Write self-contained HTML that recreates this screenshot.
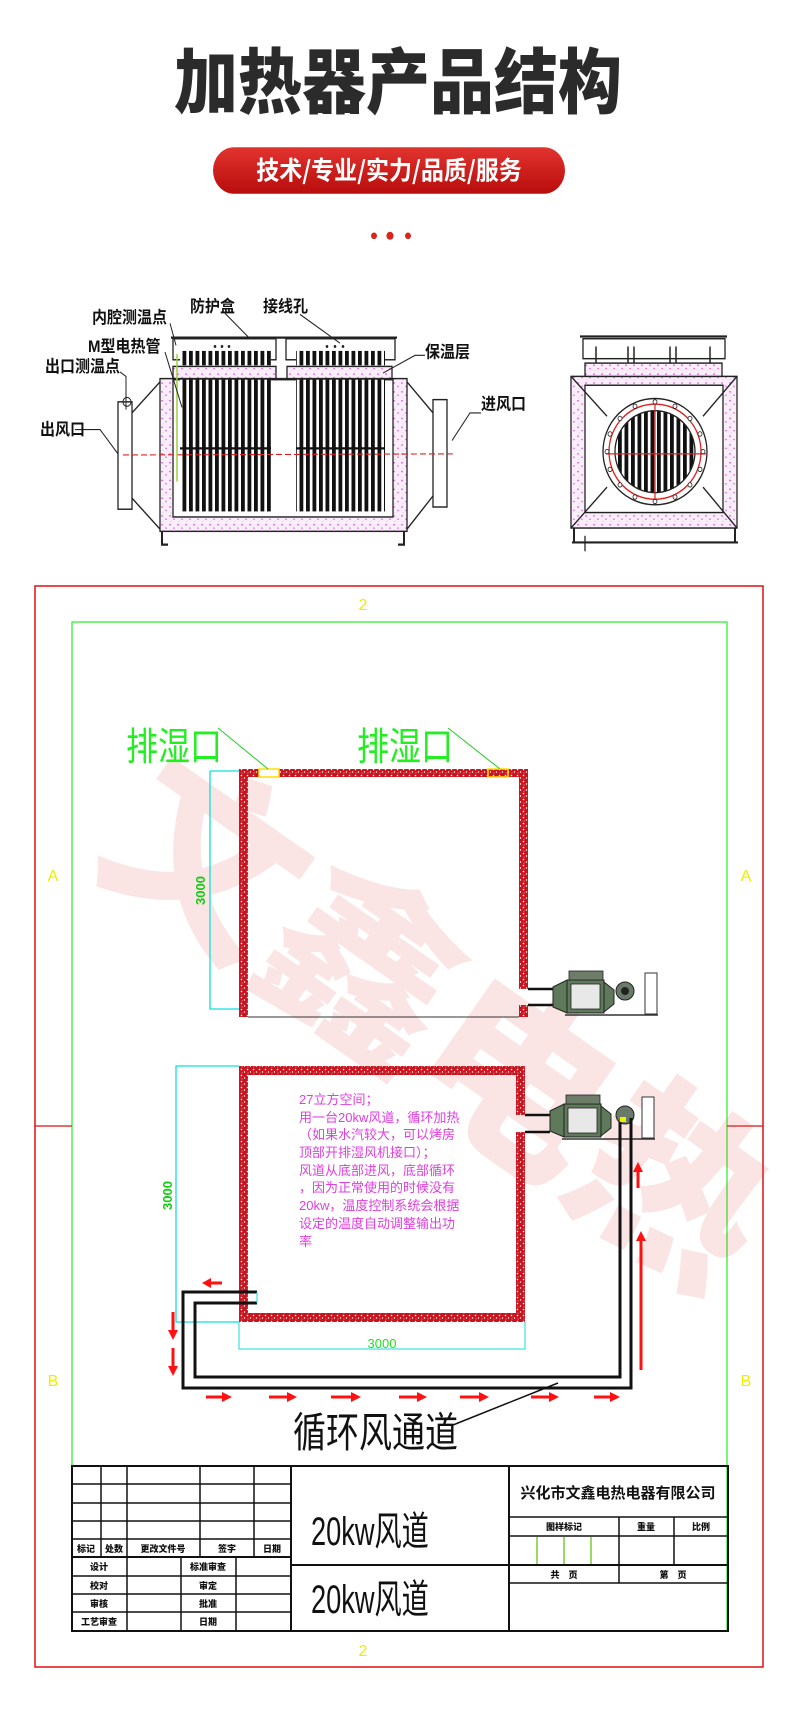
<!DOCTYPE html>
<html><head><meta charset="utf-8">
<style>
html,body{margin:0;padding:0;background:#fff;}
svg{display:block;}
text{font-family:"Liberation Sans","Noto Sans CJK SC",sans-serif;}
.cad{font-family:"Liberation Sans","Noto Sans CJK SC",sans-serif;}
.serif{font-family:"Liberation Serif","Noto Serif CJK SC",serif;}
</style></head>
<body>
<svg width="790" height="1713" viewBox="0 0 790 1713" xmlns="http://www.w3.org/2000/svg">
<defs>
<linearGradient id="btn" x1="0" y1="0" x2="0" y2="1">
<stop offset="0" stop-color="#e2342f"/><stop offset="1" stop-color="#b80d0d"/>
</linearGradient>
<pattern id="brick" width="6" height="6" patternUnits="userSpaceOnUse">
<rect width="6" height="6" fill="#c8141e"/>
<circle cx="1.5" cy="1.5" r="0.8" fill="#fff"/><circle cx="4.5" cy="4" r="0.7" fill="#fff"/><circle cx="2" cy="5" r="0.5" fill="#f4c0c0"/>
</pattern>
<pattern id="ins" width="8" height="8" patternUnits="userSpaceOnUse">
<rect width="8" height="8" fill="#fbeefb"/>
<circle cx="2" cy="2" r="0.8" fill="#e040e0"/><circle cx="6" cy="5" r="0.7" fill="#e040e0"/><circle cx="3" cy="7" r="0.5" fill="#c0c0c0"/>
</pattern>
<pattern id="tube" width="6.5" height="10" patternUnits="userSpaceOnUse">
<rect width="6.5" height="10" fill="#fff"/><rect x="0.5" width="3.8" height="10" fill="#111"/>
</pattern>
<clipPath id="cc"><ellipse cx="655" cy="408" rx="40" ry="37"/></clipPath>
</defs>

<g transform="scale(1,1.107)">
<!-- Header -->
<text x="398" y="97" font-size="64" font-weight="900" text-anchor="middle" fill="#2b2b2b" style="font-family:'Noto Sans CJK SC',sans-serif;font-weight:900">加热器产品结构</text>
<rect x="213" y="133" width="352" height="42" rx="21" fill="url(#btn)"/>
<text x="389" y="162" font-size="23" font-weight="700" text-anchor="middle" fill="#fff" style="font-family:'Noto Sans CJK SC',sans-serif;font-weight:700">技术/专业/实力/品质/服务</text>
<circle cx="374" cy="213" r="3" fill="#d9261c"/><circle cx="390" cy="213" r="3.6" fill="#d9261c"/><circle cx="408" cy="213" r="3" fill="#d9261c"/>

<!-- Left heater diagram -->
<g stroke="#222" stroke-width="1.3" fill="none">
<rect x="160" y="342" width="247" height="138" fill="url(#ins)"/>
<rect x="173" y="343" width="220" height="124" fill="#fff"/>
<rect x="173" y="331" width="103" height="11" fill="url(#ins)"/>
<rect x="287" y="331" width="105" height="11" fill="url(#ins)"/>
<rect x="173" y="306" width="103" height="19" fill="#fff"/>
<rect x="286" y="306" width="109" height="19" fill="#fff"/>
<line x1="171" y1="305" x2="397" y2="305" stroke-width="2"/>
<polyline points="160,345 132,373"/><polyline points="160,478 132,450"/>
<rect x="118" y="363" width="14" height="97" fill="#fff"/>
<polyline points="407,345 433,373"/><polyline points="407,478 433,448"/>
<rect x="433" y="361" width="14" height="97" fill="#fff"/>
<polyline points="162,480 162,492 168,492" stroke-width="2"/>
<polyline points="404,480 404,492 398,492" stroke-width="2"/>
</g>
<rect x="180" y="343" width="91" height="119" fill="url(#tube)"/>
<rect x="296" y="343" width="89" height="119" fill="url(#tube)"/>
<rect x="180" y="317" width="91" height="13" fill="url(#tube)"/>
<rect x="296" y="317" width="89" height="13" fill="url(#tube)"/>
<line x1="180" y1="405" x2="271" y2="405" stroke="#111" stroke-width="2"/>
<line x1="296" y1="405" x2="385" y2="405" stroke="#111" stroke-width="2"/>
<line x1="123" y1="411" x2="456" y2="410" stroke="#e02020" stroke-width="1" stroke-dasharray="6,3"/>
<line x1="177" y1="320" x2="177" y2="435" stroke="#9ad23a" stroke-width="1.5"/>
<circle cx="215" cy="313" r="1.3" fill="#222"/><circle cx="222" cy="313" r="1.3" fill="#222"/><circle cx="229" cy="313" r="1.3" fill="#222"/>
<circle cx="327" cy="313" r="1.3" fill="#222"/><circle cx="335" cy="313" r="1.3" fill="#222"/><circle cx="343" cy="313" r="1.3" fill="#222"/>
<g stroke="#222" stroke-width="1" fill="none">
<polyline points="75,388 100,388 118,410"/>
<polyline points="120,336 126,340 126,370"/>
<circle cx="127" cy="363" r="4"/>
<polyline points="165,318 182,368"/>
<polyline points="170,292 176,312"/>
<polyline points="225,283 250,306"/>
<polyline points="300,284 340,310"/>
<polyline points="425,321 415,321 383,337"/>
<polyline points="481,373 470,373 452,398"/>
</g>
<g font-size="15" fill="#111" style="font-family:'Noto Serif CJK SC',serif;font-weight:700">
<text x="190" y="282">防护盒</text>
<text x="263" y="282">接线孔</text>
<text x="92" y="292">内腔测温点</text>
<text x="88" y="318">M型电热管</text>
<text x="45" y="336">出口测温点</text>
<text x="425" y="323">保温层</text>
<text x="481" y="370">进风口</text>
<text x="40" y="393">出风口</text>
</g>

<!-- Right heater diagram -->
<g stroke="#222" stroke-width="1.3" fill="none">
<rect x="571" y="340" width="166" height="137" fill="url(#ins)"/>
<rect x="585" y="348" width="138" height="115" fill="#fff"/>
<rect x="585" y="328" width="137" height="12" fill="url(#ins)"/>
<rect x="583" y="306" width="142" height="18" fill="#fff"/>
<line x1="580" y1="304" x2="727" y2="304" stroke-width="2"/>
<line x1="571" y1="340" x2="607" y2="376"/><line x1="737" y1="340" x2="703" y2="376"/>
<line x1="571" y1="477" x2="607" y2="440"/><line x1="737" y1="477" x2="703" y2="440"/>
<ellipse cx="655" cy="408" rx="52" ry="48" fill="#fff"/>
<ellipse cx="655" cy="408" rx="46" ry="43" stroke="#e02020"/>
<line x1="572" y1="490" x2="738" y2="490" stroke-width="2"/>
<line x1="574" y1="477" x2="574" y2="490" stroke-width="2"/><line x1="735" y1="477" x2="735" y2="490" stroke-width="2"/>
<line x1="585" y1="484" x2="585" y2="498"/>
</g>
<g clip-path="url(#cc)"><rect x="612" y="368" width="90" height="80" fill="url(#tube)"/></g>
<ellipse cx="655" cy="408" rx="40" ry="37" fill="none" stroke="#222" stroke-width="1.3"/>
<line x1="655" y1="362" x2="655" y2="455" stroke="#e02020" stroke-width="1.2"/>
<line x1="606" y1="410" x2="707" y2="410" stroke="#e02020" stroke-width="1.2"/>
<g fill="#fff" stroke="#222" stroke-width="0.8">
<circle cx="655" cy="363" r="2"/><circle cx="675" cy="367" r="2"/><circle cx="690" cy="378" r="2"/><circle cx="700" cy="392" r="2"/><circle cx="703" cy="408" r="2"/><circle cx="700" cy="424" r="2"/><circle cx="690" cy="438" r="2"/><circle cx="675" cy="449" r="2"/><circle cx="655" cy="453" r="2"/><circle cx="635" cy="449" r="2"/><circle cx="620" cy="438" r="2"/><circle cx="610" cy="424" r="2"/><circle cx="607" cy="408" r="2"/><circle cx="610" cy="392" r="2"/><circle cx="620" cy="378" r="2"/><circle cx="635" cy="367" r="2"/>
</g>
<g stroke="#222" stroke-width="1.5"><line x1="596" y1="313" x2="596" y2="328"/><line x1="628" y1="313" x2="628" y2="328"/><line x1="634" y1="313" x2="634" y2="328"/><line x1="670" y1="313" x2="670" y2="328"/><line x1="676" y1="313" x2="676" y2="328"/><line x1="710" y1="313" x2="710" y2="328"/></g>
</g>

<!-- Drawing frame -->
<rect x="35" y="586" width="728" height="1081" fill="none" stroke="#d11" stroke-width="1.5"/>
<rect x="72" y="622" width="655" height="1009" fill="none" stroke="#3e3" stroke-width="1.3"/>
<line x1="35" y1="1126" x2="72" y2="1126" stroke="#d11" stroke-width="1.3"/>
<line x1="727" y1="1126" x2="763" y2="1126" stroke="#d11" stroke-width="1.3"/>
<g fill="#ee0" font-size="16" class="cad">
<text x="363" y="610" text-anchor="middle">2</text>
<text x="363" y="1656" text-anchor="middle">2</text>
<text x="53" y="881" text-anchor="middle">A</text><text x="746" y="881" text-anchor="middle">A</text>
<text x="53" y="1386" text-anchor="middle">B</text><text x="746" y="1386" text-anchor="middle">B</text>
</g>

<!-- Watermark -->
<text x="0" y="0" font-size="190" font-weight="900" fill="#e54848" fill-opacity="0.15" transform="translate(90,860) rotate(35)" style="font-family:'Noto Sans CJK SC',sans-serif;font-weight:900">文鑫电热</text>

<!-- Upper room -->
<rect x="239" y="769" width="289" height="8" fill="url(#brick)"/>
<rect x="239" y="769" width="9" height="248" fill="url(#brick)"/>
<rect x="519" y="769" width="9" height="220" fill="url(#brick)"/>
<rect x="519" y="1005" width="9" height="12" fill="url(#brick)"/>
<line x1="248" y1="1017" x2="519" y2="1017" stroke="#333" stroke-width="1"/>
<rect x="259" y="769" width="20" height="8" fill="#fff" stroke="#fd0" stroke-width="1.5"/>
<rect x="488" y="769" width="20" height="8" fill="url(#brick)" stroke="#fd0" stroke-width="1.5"/>
<polyline points="210,771 239,771" stroke="#1dd" fill="none" stroke-width="1.3"/>
<polyline points="239,1009 210,1009 210,771" stroke="#1dd" fill="none" stroke-width="1.3"/>
<text x="0" y="0" font-size="13" fill="#1c1" font-weight="700" transform="translate(205,905) rotate(-90)" class="cad">3000</text>
<g fill="#2e2" font-size="32" style="font-family:'Noto Sans CJK SC',sans-serif">
<text x="0" y="0" transform="translate(126,760) scale(1,1.2)">排湿口</text>
<text x="0" y="0" transform="translate(357,760) scale(1,1.2)">排湿口</text>
</g>
<line x1="218" y1="728" x2="268" y2="769" stroke="#2c2" stroke-width="1"/>
<line x1="448" y1="728" x2="500" y2="769" stroke="#2c2" stroke-width="1"/>
<g stroke="#111" stroke-width="2.5" fill="none"><polyline points="528,989 553,989"/><polyline points="528,1005 553,1005"/></g>
<g>
<polygon points="553,987 567,980 567,1013 553,1007" fill="#5e7a5a" stroke="#222" stroke-width="1"/>
<rect x="567" y="980" width="37" height="33" fill="#5e7a5a" stroke="#222" stroke-width="1"/>
<rect x="571" y="984" width="29" height="25" fill="#e8e8e8" stroke="#222" stroke-width="0.8"/>
<rect x="569" y="971" width="34" height="9" fill="#6d7d6a" stroke="#222" stroke-width="0.8"/>
<polygon points="604,982 614,990 614,1004 604,1012" fill="#5e7a5a" stroke="#222" stroke-width="1"/>
<circle cx="625" cy="991" r="9" fill="#6a7a68" stroke="#222" stroke-width="1"/>
<circle cx="625" cy="991" r="4" fill="#222"/>
<rect x="645" y="973" width="12" height="41" fill="#fff" stroke="#333" stroke-width="1"/>
<line x1="565" y1="1015" x2="658" y2="1015" stroke="#333" stroke-width="1.5"/>
</g>
<!-- Lower room -->
<rect x="239" y="1066" width="286" height="9" fill="url(#brick)"/>
<rect x="239" y="1313" width="286" height="9" fill="url(#brick)"/>
<rect x="239" y="1066" width="9" height="256" fill="url(#brick)"/>
<rect x="516" y="1066" width="9" height="49" fill="url(#brick)"/>
<rect x="516" y="1132" width="9" height="190" fill="url(#brick)"/>
<polyline points="239,1066 176,1066 176,1322 239,1322" stroke="#1dd" fill="none" stroke-width="1.3"/>
<polyline points="239,1322 239,1349 525,1349 525,1322" stroke="#1dd" fill="none" stroke-width="1"/>
<text x="0" y="0" font-size="13" fill="#1c1" font-weight="700" transform="translate(172,1210) rotate(-90)" class="cad">3000</text>
<text x="382" y="1348" font-size="13" fill="#2d2" text-anchor="middle" class="cad">3000</text>
<g fill="#e03ee0" font-size="13" style="font-family:'Noto Serif CJK SC',serif">
<text x="299" y="1104">27立方空间；</text>
<text x="299" y="1122">用一台20kw风道，循环加热</text>
<text x="299" y="1139">（如果水汽较大，可以烤房</text>
<text x="299" y="1157">顶部开排湿风机接口）；</text>
<text x="299" y="1175">风道从底部进风，底部循环</text>
<text x="299" y="1192">，因为正常使用的时候没有</text>
<text x="299" y="1210">20kw，温度控制系统会根据</text>
<text x="299" y="1228">设定的温度自动调整输出功</text>
<text x="299" y="1246">率</text>
</g>
<g stroke="#111" stroke-width="2.5" fill="none"><polyline points="525,1115 550,1115"/><polyline points="525,1132 550,1132"/></g>
<g transform="translate(-3,124)">
<polygon points="553,987 567,980 567,1013 553,1007" fill="#5e7a5a" stroke="#222" stroke-width="1"/>
<rect x="567" y="980" width="37" height="33" fill="#5e7a5a" stroke="#222" stroke-width="1"/>
<rect x="571" y="984" width="29" height="25" fill="#e8e8e8" stroke="#222" stroke-width="0.8"/>
<rect x="569" y="971" width="34" height="9" fill="#6d7d6a" stroke="#222" stroke-width="0.8"/>
<polygon points="604,982 614,990 614,1004 604,1012" fill="#5e7a5a" stroke="#222" stroke-width="1"/>
<circle cx="628" cy="991" r="9" fill="#6a7a68" stroke="#222" stroke-width="1"/>
<rect x="645" y="973" width="12" height="41" fill="#fff" stroke="#333" stroke-width="1"/>
<line x1="565" y1="1015" x2="658" y2="1015" stroke="#333" stroke-width="1.5"/>
</g>
<rect x="620" y="1117" width="6" height="5" fill="#ee0"/>
<g stroke="#111" stroke-width="3" fill="none">
<polyline points="257,1292 183,1292 183,1388 631,1388 631,1118"/>
<polyline points="257,1303 195,1303 195,1377 620,1377 620,1122"/>
<line x1="257" y1="1292" x2="257" y2="1303" stroke="#1dd" stroke-width="1"/>
</g>
<g stroke="#f11" stroke-width="3" fill="#f11">
<line x1="210" y1="1283" x2="222" y2="1283"/><polygon points="202,1283 211,1278 211,1288" stroke="none"/>
<line x1="173" y1="1312" x2="173" y2="1330"/><polygon points="173,1340 168,1330 178,1330" stroke="none"/>
<line x1="173" y1="1348" x2="173" y2="1366"/><polygon points="173,1376 168,1366 178,1366" stroke="none"/>
<line x1="206" y1="1397" x2="222" y2="1397"/><polygon points="232,1397 222,1392 222,1402" stroke="none"/>
<line x1="269" y1="1397" x2="287" y2="1397"/><polygon points="297,1397 287,1392 287,1402" stroke="none"/>
<line x1="331" y1="1397" x2="351" y2="1397"/><polygon points="361,1397 351,1392 351,1402" stroke="none"/>
<line x1="399" y1="1397" x2="417" y2="1397"/><polygon points="427,1397 417,1392 417,1402" stroke="none"/>
<line x1="460" y1="1397" x2="479" y2="1397"/><polygon points="489,1397 479,1392 479,1402" stroke="none"/>
<line x1="531" y1="1397" x2="549" y2="1397"/><polygon points="559,1397 549,1392 549,1402" stroke="none"/>
<line x1="594" y1="1397" x2="610" y2="1397"/><polygon points="620,1397 610,1392 610,1402" stroke="none"/>
<line x1="638" y1="1188" x2="638" y2="1172"/><polygon points="638,1162 633,1172 643,1172" stroke="none"/>
<line x1="641" y1="1370" x2="641" y2="1241"/><polygon points="641,1231 636,1241 646,1241" stroke="none"/>
</g>
<line x1="453" y1="1425" x2="558" y2="1383" stroke="#111" stroke-width="1.5"/>
<text x="0" y="0" font-size="33" fill="#111" transform="translate(293,1447) scale(1,1.25)" style="font-family:'Noto Sans CJK SC',sans-serif">循环风通道</text>

<!-- Title block -->
<g stroke="#111" stroke-width="1.5" fill="none">
<rect x="72" y="1466" width="656" height="165" stroke-width="2"/>
<line x1="291" y1="1466" x2="291" y2="1631" stroke-width="2"/>
<line x1="509" y1="1466" x2="509" y2="1631" stroke-width="2"/>
<line x1="72" y1="1484" x2="291" y2="1484"/><line x1="72" y1="1503" x2="291" y2="1503"/>
<line x1="72" y1="1521" x2="291" y2="1521"/><line x1="72" y1="1539" x2="291" y2="1539"/>
<line x1="72" y1="1557" x2="291" y2="1557" stroke-width="2"/>
<line x1="72" y1="1576" x2="291" y2="1576"/><line x1="72" y1="1594" x2="291" y2="1594"/><line x1="72" y1="1612" x2="291" y2="1612"/>
<line x1="101" y1="1466" x2="101" y2="1557"/><line x1="127" y1="1466" x2="127" y2="1631"/>
<line x1="200" y1="1466" x2="200" y2="1557"/><line x1="254" y1="1466" x2="254" y2="1557"/>
<line x1="181" y1="1557" x2="181" y2="1631"/><line x1="236" y1="1557" x2="236" y2="1631"/>
<line x1="291" y1="1565" x2="509" y2="1565" stroke-width="2"/>
<line x1="509" y1="1517" x2="728" y2="1517"/><line x1="509" y1="1536" x2="728" y2="1536"/>
<line x1="509" y1="1565" x2="728" y2="1565" stroke-width="2"/><line x1="509" y1="1583" x2="728" y2="1583"/>
<line x1="619" y1="1517" x2="619" y2="1583"/><line x1="674" y1="1517" x2="674" y2="1565"/>
</g>
<g stroke="#7c3" stroke-width="1.5"><line x1="537" y1="1537" x2="537" y2="1564"/><line x1="564" y1="1537" x2="564" y2="1564"/><line x1="591" y1="1537" x2="591" y2="1564"/></g>
<g font-size="9" font-weight="700" fill="#111" text-anchor="middle" style="font-family:'Noto Sans CJK SC',sans-serif;font-weight:900">
<text x="86" y="1552">标记</text><text x="114" y="1552">处数</text><text x="163" y="1552">更改文件号</text><text x="227" y="1552">签字</text><text x="272" y="1552">日期</text>
<text x="99" y="1570">设计</text><text x="208" y="1570">标准审查</text>
<text x="99" y="1589">校对</text><text x="208" y="1589">审定</text>
<text x="99" y="1607">审核</text><text x="208" y="1607">批准</text>
<text x="99" y="1625">工艺审查</text><text x="208" y="1625">日期</text>
<text x="564" y="1530">图样标记</text><text x="646" y="1530">重量</text><text x="701" y="1530">比例</text>
<text x="564" y="1578">共　页</text><text x="673" y="1578">第　页</text>
</g>
<text x="618" y="1498" font-size="15" font-weight="700" fill="#111" text-anchor="middle" style="font-family:'Noto Sans CJK SC',sans-serif;font-weight:700">兴化市文鑫电热电器有限公司</text>
<g font-size="32" fill="#111" style="font-family:'Noto Sans CJK SC',sans-serif">
<text x="0" y="0" transform="translate(311,1545) scale(0.85,1.25)">20kw风道</text>
<text x="0" y="0" transform="translate(311,1613) scale(0.85,1.25)">20kw风道</text>
</g>
</svg>
</body></html>
